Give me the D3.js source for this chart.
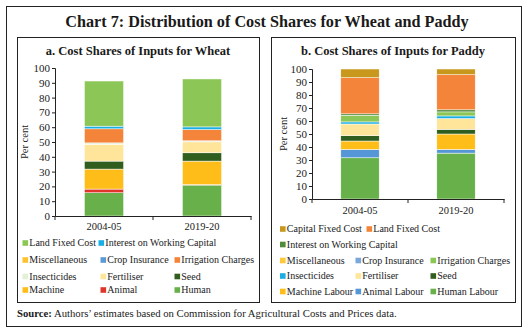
<!DOCTYPE html>
<html><head><meta charset="utf-8">
<script src="https://cdn.jsdelivr.net/npm/d3@7"></script>
<style>
body{margin:0;background:#fff;}
svg{display:block;font-family:"Times New Roman",serif;}
</style></head>
<body><svg id="c" width="531" height="332"></svg>
<script>
// ---------- DATA ----------
const years = ["2004-05", "2019-20"];

const wheatSeries = ["Human","Animal","Machine","Seed","Fertiliser","Insecticides","Irrigation Charges","Crop Insurance","Miscellaneous","Interest on Working Capital","Land Fixed Cost"];
const wheat2004 = [15.7, 2.5, 13.5, 5.4, 11.4, 0.9, 9.5, 0, 0, 1.8, 30.5];
const wheat2019 = [20.9, 0.3, 15.9, 5.6, 7.4, 0.7, 7.6, 0, 0, 1.8, 32.4];
const wheatColors = ["#68b04a","#e0352b","#ffbd1a","#2f5e1f","#ffe59a","#e2efd9","#f4843a","#5b9bd5","#ffc22e","#1aaee5","#8bc656"];
const wheatLegendRows = [
  ["Land Fixed Cost","Interest on Working Capital"],
  ["Miscellaneous","Crop Insurance","Irrigation Charges"],
  ["Insecticides","Fertiliser","Seed"],
  ["Machine","Animal","Human"]
];

const paddySeries = ["Human Labour","Animal Labour","Machine Labour","Seed","Fertiliser","Insecticides","Irrigation Charges","Crop Insurance","Miscellaneous","Interest on Working Capital","Land Fixed Cost","Capital Fixed Cost"];
const paddy2004 = [31.7, 6.4, 6.5, 4.1, 9.0, 1.6, 5.1, 0, 0, 1.1, 27.8, 6.7];
const paddy2019 = [35.3, 2.8, 11.9, 3.6, 8.3, 2.0, 3.1, 0, 0, 1.6, 27.0, 4.4];
const paddyColors = ["#68b04a","#5597d6","#ffbd1a","#2f5e1f","#ffe59a","#1aaee5","#8bc656","#7aa8da","#ffc83a","#4e8b3a","#f4843a","#c8981c"];
const paddyLegendRows = [
  ["Capital Fixed Cost","Land Fixed Cost"],
  ["Interest on Working Capital"],
  ["Miscellaneous","Crop Insurance","Irrigation Charges"],
  ["Insecticides","Fertiliser","Seed"],
  ["Machine Labour","Animal Labour","Human Labour"]
];

const yTicks = [0,10,20,30,40,50,60,70,80,90,100];

// ---------- DRAW ----------
const svg = d3.select("#c");
svg.append("rect").attr("x",6.5).attr("y",6.5).attr("width",515).attr("height",320)
  .attr("fill","#fff").attr("stroke","#222").attr("stroke-width",1);
svg.append("text").attr("x",267).attr("y",27).attr("text-anchor","middle")
  .attr("font-weight","bold").attr("font-size",16.2).attr("fill","#1a1a1a")
  .text("Chart 7: Distribution of Cost Shares for Wheat and Paddy");

svg.append("rect").attr("x",17.5).attr("y",37.5).attr("width",242).attr("height",265)
  .attr("fill","none").attr("stroke","#222");
svg.append("rect").attr("x",271.5).attr("y",37.5).attr("width",244).attr("height",265)
  .attr("fill","none").attr("stroke","#222");

const src = svg.append("text").attr("x",17).attr("y",317).attr("font-size",10.7).attr("fill","#1a1a1a");
src.append("tspan").attr("font-weight","bold").text("Source:");
src.append("tspan").text(" Authors’ estimates based on Commission for Agricultural Costs and Prices data.");

function panel(cfg){
  const g = svg.append("g");
  g.append("text").attr("x",cfg.titleX).attr("y",55).attr("text-anchor","middle")
    .attr("font-weight","bold").attr("font-size",12.5).attr("fill","#1a1a1a").text(cfg.title);

  const x = d3.scaleBand().domain(years).range([cfg.x0,cfg.x1]).padding(0);
  const y = d3.scaleLinear().domain([0,100]).range([cfg.y0,cfg.y1]);

  const rows = years.map((yr,i)=>{
    const o={year:yr};
    cfg.series.forEach((s,j)=>o[s]=cfg.values[i][j]);
    return o;
  });
  const stack = d3.stack().keys(cfg.series)(rows);
  const color = d3.scaleOrdinal().domain(cfg.series).range(cfg.colors);
  const bw = x.bandwidth()*0.4;

  g.selectAll("g.layer").data(stack).join("g").attr("class","layer")
    .attr("fill",d=>color(d.key))
    .selectAll("rect").data(d=>d.filter(p=>p[1]-p[0]>0)).join("rect")
    .attr("x",d=>x(d.data.year)+x.bandwidth()/2-bw/2)
    .attr("width",bw)
    .attr("y",d=>y(d[1]))
    .attr("height",d=>y(d[0])-y(d[1]))
    .attr("stroke","#fff").attr("stroke-width",0.5);

  const ya = g.append("g").attr("transform",`translate(${cfg.x0},0)`)
    .call(d3.axisLeft(y).tickValues(yTicks).tickSize(3).tickPadding(2));
  ya.attr("font-family",null);
  ya.selectAll("text").attr("font-size",11).attr("fill","#222");
  ya.selectAll("line,path").attr("stroke","#222");

  const xa = g.append("g").attr("transform",`translate(0,${cfg.y0})`)
    .call(d3.axisBottom(x).tickSize(0).tickPadding(cfg.xPad));
  xa.attr("font-family",null);
  xa.selectAll("text").attr("font-size",10.5).attr("fill","#222");
  xa.select("path").attr("stroke","#222");
  const bounds = [cfg.x0, (cfg.x0+cfg.x1)/2, cfg.x1];
  g.selectAll("line.bt").data(bounds).join("line").attr("class","bt")
    .attr("x1",d=>d).attr("x2",d=>d).attr("y1",cfg.y0).attr("y2",cfg.y0+4).attr("stroke","#222");

  g.append("text").attr("transform",`translate(${cfg.ylabX},${(cfg.y0+cfg.y1)/2}) rotate(-90)`)
    .attr("text-anchor","middle").attr("font-size",10.5).attr("fill","#222").text("Per cent");

  cfg.legendRows.forEach((row,ri)=>{
    const cols = cfg.legCols[ri];
    row.forEach((name,ci)=>{
      const lx = cols[ci], ly = cfg.legY[ri];
      g.append("rect").attr("x",lx).attr("y",ly-2.8).attr("width",5.6).attr("height",5.6).attr("fill",color(name));
      g.append("text").attr("x",lx+6.8).attr("y",ly+3.4).attr("font-size",10).attr("fill","#222").text(name);
    });
  });
}

panel({
  title:"a. Cost Shares of Inputs for Wheat", titleX:138,
  x0:55, x1:251, y0:216, y1:68, xPad:7, ylabX:28,
  series:wheatSeries, values:[wheat2004,wheat2019], colors:wheatColors,
  legendRows:wheatLegendRows,
  legCols:[[22.5,98.5],[22.5,100.5,174.5],[22.5,100.5,174.5],[22.5,100.5,174.5]],
  legY:[243,260,276.5,290]
});
panel({
  title:"b. Cost Shares of Inputs for Paddy", titleX:393,
  x0:312, x1:504, y0:199, y1:69, xPad:8, ylabX:287,
  series:paddySeries, values:[paddy2004,paddy2019], colors:paddyColors,
  legendRows:paddyLegendRows,
  legCols:[[280,366.5],[280],[280,355.5,430.5],[280,355.5,430.5],[280,355.5,430.5]],
  legY:[229,244.5,260.5,276,291.5]
});
</script></body></html>
